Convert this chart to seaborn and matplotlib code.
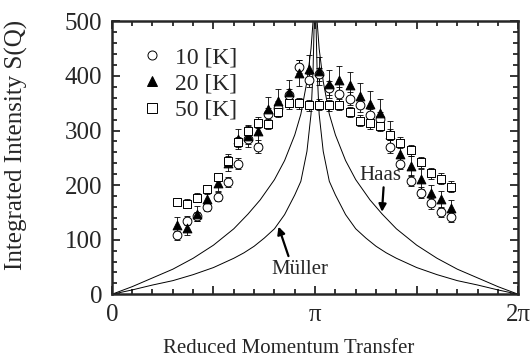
import numpy as np
import pandas as pd
import seaborn as sns
import matplotlib.pyplot as plt
import matplotlib.ticker as ticker

# momentum transfer of the data points, in units of pi
q_pts = [0.32, 0.37, 0.42, 0.47, 0.52, 0.57, 0.62, 0.67, 0.72, 0.77,
         0.82, 0.87, 0.92, 0.97, 1.02, 1.07, 1.12, 1.17, 1.22, 1.27,
         1.32, 1.37, 1.42, 1.47, 1.52, 1.57, 1.62, 1.67]

s_10K = [108, 135, 143, 160, 179, 205, 239, 285, 270, 330,
         342, 365, 417, 392, 403, 378, 367, 358, 346, 328,
         322, 270, 239, 208, 186, 167, 151, 141]
e_10K = [8, 8, 8, 8, 8, 9, 10, 10, 12, 12,
         12, 12, 12, 12, 12, 12, 12, 12, 12, 12,
         12, 12, 10, 10, 10, 10, 9, 9]

s_20K = [127, 121, 148, 175, 204, 241, 285, 290, 299, 340,
         355, 371, 406, 413, 409, 385, 393, 383, 364, 349,
         332, 294, 257, 235, 211, 185, 174, 158]
e_20K = [15, 12, 14, 14, 14, 16, 18, 20, 22, 22,
         22, 22, 24, 25, 25, 26, 25, 24, 23, 24,
         26, 23, 20, 18, 18, 16, 16, 15]

s_50K = [169, 166, 177, 192, 215, 245, 279, 299, 314, 312,
         334, 350, 350, 346, 347, 346, 347, 334, 318, 313,
         309, 292, 278, 264, 242, 222, 212, 197]
e_50K = [8, 8, 8, 8, 8, 8, 9, 9, 10, 10,
         10, 10, 10, 10, 10, 10, 10, 10, 10, 10,
         10, 10, 10, 10, 10, 10, 10, 10]

# theory curves, q in units of pi
q_mueller = [0.0, 0.1, 0.2, 0.3, 0.4, 0.5, 0.6, 0.65, 0.7, 0.75, 0.8, 0.85, 0.9, 0.93, 0.96, 0.98, 0.99, 0.997,
             1.003, 1.01, 1.02, 1.04, 1.07, 1.1, 1.15, 1.2, 1.25, 1.3, 1.35, 1.4, 1.5, 1.6, 1.7, 1.8, 1.9, 2.0]
s_mueller = [0, 8, 17, 25, 36, 49, 66, 76, 88, 103, 120, 146, 182, 207, 262, 330, 410, 520,
             520, 410, 330, 262, 207, 182, 146, 120, 103, 88, 76, 66, 49, 36, 25, 17, 8, 0]
q_haas = [0.0, 0.1, 0.2, 0.3, 0.4, 0.5, 0.6, 0.67, 0.73, 0.8, 0.85, 0.9, 0.93, 0.96, 0.98, 0.99, 0.997,
          1.003, 1.01, 1.02, 1.04, 1.07, 1.1, 1.15, 1.2, 1.27, 1.33, 1.4, 1.5, 1.6, 1.7, 1.8, 1.9, 2.0]
s_haas = [0, 14, 30, 46, 66, 90, 120, 147, 173, 210, 245, 292, 330, 390, 450, 500, 560,
          560, 500, 450, 390, 330, 292, 245, 210, 173, 147, 120, 90, 66, 46, 30, 14, 0]

legend_labels = ['10 [K]', '20 [K]', '50 [K]']

#%%
sns.set_style('ticks')
plt.rcParams['font.family'] = ['Liberation Serif', 'DejaVu Serif']

fig = plt.figure(figsize=(5.3, 3.62), dpi=100)
ax = fig.add_axes([0.211, 0.187, 0.767, 0.754])

sns.lineplot(x=q_mueller, y=s_mueller, color='black', lw=0.7, sort=False, estimator=None, ax=ax)
sns.lineplot(x=q_haas, y=s_haas, color='black', lw=0.7, sort=False, estimator=None, ax=ax)

series = [(s_10K, e_10K, 'o', 'white'), (s_20K, e_20K, '^', 'black'), (s_50K, e_50K, 's', 'white')]
handles = []
for (s, e, m, fc), lab in zip(series, legend_labels):
    ax.errorbar(q_pts, s, yerr=e, fmt='none', ecolor='black', elinewidth=0.6, capsize=2, capthick=0.6, zorder=3)
    sns.scatterplot(x=q_pts, y=s, marker=m, s=40, color=fc, edgecolor='black', linewidth=0.7, zorder=4, ax=ax)
    handles.append(plt.Line2D([], [], ls='none', marker=m, ms=6.5, mfc=fc, mec='black', mew=0.7, label=lab))

ax.legend(handles=handles, loc='upper left', bbox_to_anchor=(0.04, 0.95), frameon=False,
          fontsize=17, handletextpad=0.5, labelspacing=0.2, handlelength=1.0, borderpad=0)

# annotations with arrows
ax.text(1.32, 217, 'Haas', ha='center', va='center', fontsize=15)
ax.annotate('', xy=(1.329, 151), xytext=(1.337, 196),
            arrowprops=dict(arrowstyle='-|>', color='black', lw=1.6, shrinkA=0, shrinkB=0, mutation_scale=11))
ax.text(0.927, 45, 'Müller', ha='center', va='center', fontsize=15)
ax.annotate('', xy=(0.82, 124), xytext=(0.869, 70),
            arrowprops=dict(arrowstyle='-|>', color='black', lw=1.6, shrinkA=0, shrinkB=0, mutation_scale=11))

ax.set_xlim(0, 2)
ax.set_ylim(0, 500)
ax.xaxis.set_major_locator(ticker.MultipleLocator(0.5))
ax.xaxis.set_minor_locator(ticker.MultipleLocator(0.1))
pi_labels = {0.0: '0', 1.0: 'π', 2.0: '2π'}
ax.xaxis.set_major_formatter(ticker.FuncFormatter(lambda v, p: pi_labels.get(round(v, 2), '')))
ax.yaxis.set_major_locator(ticker.MultipleLocator(100))
ax.yaxis.set_minor_locator(ticker.MultipleLocator(20))
ax.tick_params(which='both', direction='in', top=True, right=True, width=1.3, labelsize=18, pad=7)
ax.tick_params(which='major', length=6)
ax.tick_params(which='minor', length=3.5)
for sp in ax.spines.values():
    sp.set_linewidth(1.8)

ax.set_xlabel('Reduced Momentum Transfer', fontsize=15)
ax.set_ylabel('Integrated Intensity S(Q)', fontsize=18)
ax.xaxis.set_label_coords(0.436, -0.162)
ax.yaxis.set_label_coords(-0.205, 0.547)

plt.savefig('out.png', dpi=100)
